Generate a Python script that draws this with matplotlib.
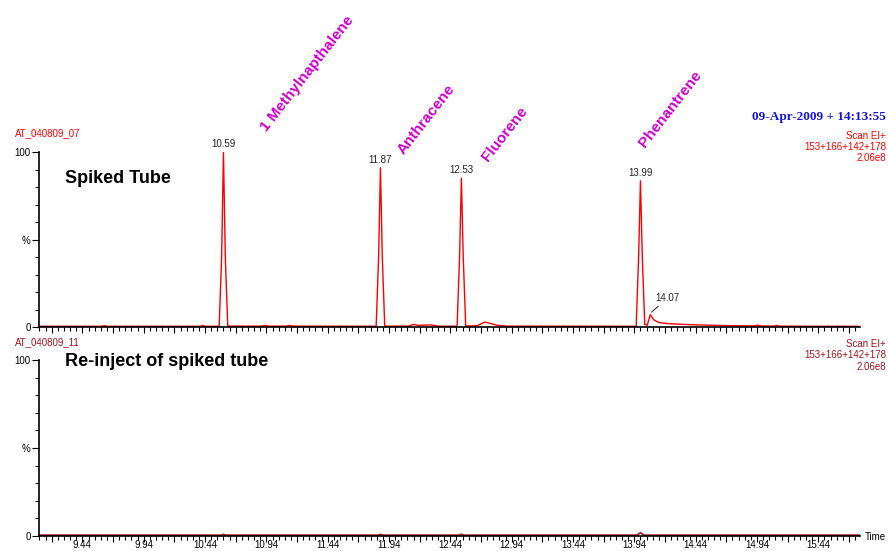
import numpy as np
from matplotlib import pyplot as plt
from matplotlib.ticker import FixedLocator, NullFormatter, FuncFormatter

plt.rcParams['font.family'] = ['Liberation Sans', 'DejaVu Sans']

# Spiked tube trace (time in min, intensity in %)
spiked_time = [9.09, 9.60, 9.62, 9.64, 10.40, 10.42, 10.44, 10.555, 10.575, 10.59, 10.605, 10.625,
               10.90, 10.93, 10.96, 11.10, 11.13, 11.16, 11.835, 11.855, 11.87, 11.885, 11.905,
               12.10, 12.14, 12.18, 12.24, 12.28, 12.34, 12.495, 12.515, 12.53, 12.545, 12.565,
               12.66, 12.72, 12.76, 12.82, 12.90, 13.955, 13.975, 13.99, 14.005, 14.025,
               14.045, 14.07, 14.10, 14.14, 14.20, 14.30, 14.45, 14.70, 14.90, 14.95, 14.97,
               15.00, 15.08, 15.10, 15.12, 15.40, 15.78]
spiked_pct = [0.4, 0.4, 0.8, 0.4, 0.4, 0.9, 0.4, 0.4, 40, 100, 40, 0.5,
              0.5, 0.9, 0.5, 0.5, 0.9, 0.5, 0.4, 40, 91, 40, 0.5,
              0.5, 1.5, 0.9, 1.1, 1.2, 0.5, 0.4, 40, 85, 40, 0.5,
              0.8, 2.8, 2.2, 1.0, 0.5, 0.4, 40, 83.5, 40, 1.5,
              1.0, 7.0, 4.0, 2.6, 2.0, 1.6, 1.2, 0.8, 0.6, 1.0, 0.6,
              0.6, 0.5, 0.9, 0.5, 0.4, 0.4]

# Re-inject trace
reinject_time = [9.09, 10.57, 10.59, 10.61, 11.85, 11.87, 11.89, 12.51, 12.53, 12.55,
                 13.96, 13.99, 14.02, 15.78]
reinject_pct = [0.5, 0.5, 0.9, 0.5, 0.5, 0.9, 0.5, 0.5, 1.0, 0.5, 0.5, 1.8, 0.5, 0.5]

peak_times = [10.59, 11.87, 12.53, 13.99]
peak_pct = [100, 91, 85, 83.5]

compounds = ["1 Methylnapthalene", "Anthracene", "Fluorene", "Phenantrene"]
compound_x = [10.96, 12.08, 12.77, 14.05]
compound_y = [110, 97.5, 93, 101]

xlim = (9.086, 15.78)
major_ticks = np.arange(9.19, 15.78, 0.25)
minor_ticks = np.arange(9.09, 15.78, 0.05)

RED = '#ff0000'
DARKRED = '#a0161e'
MAGENTA = '#cc00cc'


def is_label_tick(v):
	# labels only every half minute: 9.44, 9.94, ...
	k = (v - 9.44) / 0.5
	return abs(k - round(k)) < 0.01


def style_axis(ax, show_labels):
	for s in ['top', 'right']:
		ax.spines[s].set_visible(False)
	ax.spines['left'].set_linewidth(1.2)
	ax.spines['bottom'].set_linewidth(1.2)
	ax.set_xlim(*xlim)
	ax.set_ylim(0, 100)
	ax.xaxis.set_major_locator(FixedLocator(major_ticks))
	ax.xaxis.set_minor_locator(FixedLocator(minor_ticks))
	if show_labels:
		ax.xaxis.set_major_formatter(FuncFormatter(lambda v, p: "%.2f" % v if is_label_tick(v) else ""))
	else:
		ax.xaxis.set_major_formatter(NullFormatter())
	ax.yaxis.set_major_locator(FixedLocator([0, 50, 100]))
	ax.yaxis.set_minor_locator(FixedLocator(np.arange(10, 100, 10)))
	ax.yaxis.set_major_formatter(FuncFormatter(lambda v, p: {0: "0", 50: "%", 100: "100"}[int(round(v))]))
	ax.tick_params(axis='both', which='major', length=5, width=0.8, labelsize=7, pad=1)
	ax.tick_params(axis='x', which='major', length=4, pad=-1)
	ax.tick_params(axis='both', which='minor', length=3, width=0.8)


fig = plt.figure(figsize=(8.88, 5.51), dpi=100)
ax1 = fig.add_axes([39 / 888, 1 - 327 / 551, 821 / 888, 175 / 551])
ax2 = fig.add_axes([39 / 888, 1 - 536 / 551, 821 / 888, 176 / 551])

ax1.plot(spiked_time, spiked_pct, color=RED, lw=1)
style_axis(ax1, False)
ax2.plot(reinject_time, reinject_pct, color=DARKRED, lw=1.2)
style_axis(ax2, True)

for t, h in zip(peak_times, peak_pct):
	ax1.annotate("%.2f" % t, (t, h), xytext=(0, 2), textcoords='offset points',
				 ha='center', va='bottom', fontsize=7, color='#222222')
ax1.annotate("14.07", (14.08, 8.5), xytext=(14.11, 13.5), textcoords='data',
			 ha='left', va='bottom', fontsize=7, color='#222222',
			 arrowprops=dict(arrowstyle='-', color='#222222', lw=0.7, shrinkA=0, shrinkB=0))

for name, x, y in zip(compounds, compound_x, compound_y):
	ax1.text(x, y, name, rotation=52, rotation_mode='anchor', ha='left', va='bottom',
			 fontsize=11, fontweight='bold', color=MAGENTA, clip_on=False)

ax1.text(9.30, 85, "Spiked Tube", fontsize=13, fontweight='bold', va='center')
ax2.text(9.30, 99, "Re-inject of spiked tube", fontsize=13, fontweight='bold', va='center')

fig.text(15 / 888, 1 - 133 / 551, "AT_040809_07", fontsize=7, color=RED, va='center')
fig.text(15 / 888, 1 - 342 / 551, "AT_040809_11", fontsize=7, color=DARKRED, va='center')
for i, s in enumerate(["Scan EI+", "153+166+142+178", "2.06e8"]):
	fig.text(886 / 888, 1 - (136 + 11 * i) / 551, s, fontsize=7, color=RED, ha='right', va='center')
	fig.text(886 / 888, 1 - (344 + 11.5 * i) / 551, s, fontsize=7, color=DARKRED, ha='right', va='center')
fig.text(886 / 888, 1 - 117 / 551, "09-Apr-2009 + 14:13:55", fontsize=9.5, fontweight='bold',
		 family='Liberation Serif', color='#1414d2', ha='right', va='center')
fig.text(865 / 888, 1 - 537 / 551, "Time", fontsize=7, va='center')

fig.savefig("out.png", dpi=100)
